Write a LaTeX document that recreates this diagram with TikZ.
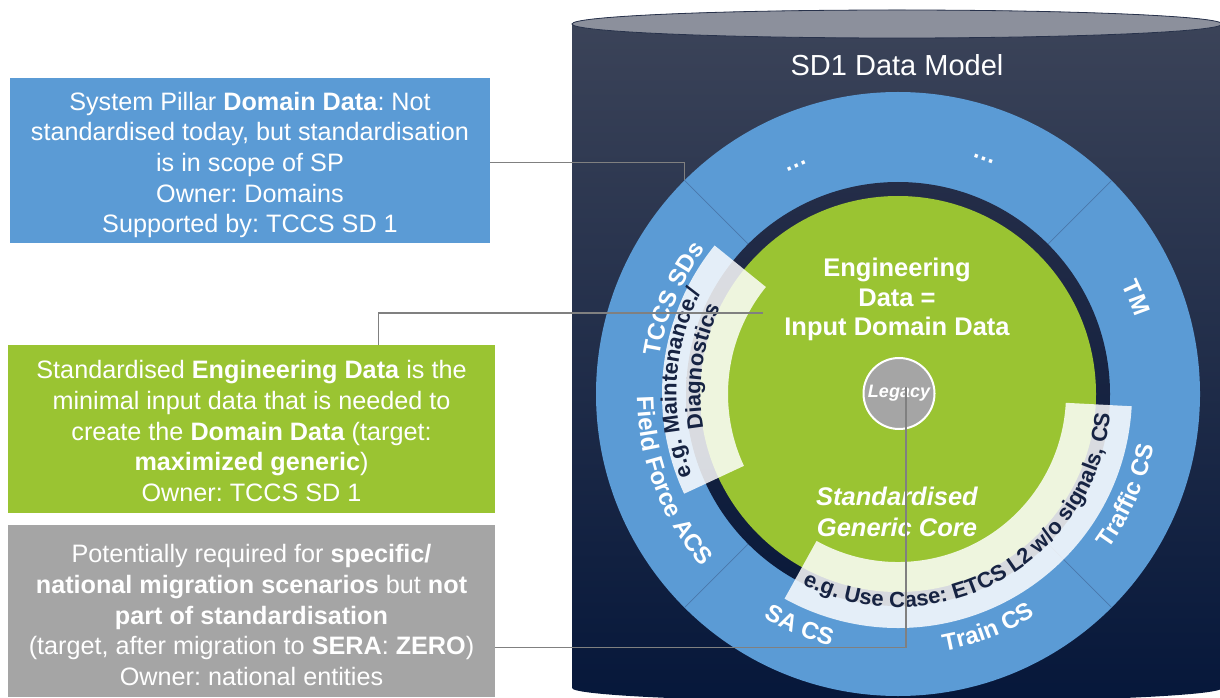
\documentclass[tikz,border=0pt]{standalone}
\usepackage{fontspec}
\setmainfont{Liberation Sans}
\usetikzlibrary{decorations.text}
\frenchspacing

\definecolor{ringblue}{RGB}{91,155,213}
\definecolor{coregreen}{RGB}{154,196,50}
\definecolor{boxgray}{RGB}{165,165,165}
\definecolor{cyltop}{RGB}{60,68,89}
\definecolor{cylbot}{RGB}{6,23,58}
\definecolor{gaptop}{RGB}{36,45,72}
\definecolor{gapbot}{RGB}{9,25,58}
\definecolor{lidgray}{RGB}{140,144,156}
\definecolor{lidedge}{RGB}{40,50,75}
\definecolor{navytext}{RGB}{22,35,66}
\definecolor{linegray}{RGB}{128,128,128}
\definecolor{divline}{RGB}{74,120,172}

\tikzset{
  infobox/.style={anchor=north west, inner sep=0pt},
  infotext/.style={inner sep=0pt, align=center, text=white,
    font=\fontsize{25.2}{30.6}\selectfont},
  divider/.style={draw=divline, line width=0.7pt},
  overlay band/.style={fill=white, fill opacity=0.84},
  connector/.style={draw=linegray, line width=1.3pt},
  ringtext/.style={decorate, decoration={text along path, text align=center,
    text color=white, text={|\fontsize{24}{24}\selectfont\bfseries|#1}}},
  bandtext/.style={decorate, decoration={text along path, text align=center,
    text color=navytext, text={|\fontsize{22}{22}\selectfont\bfseries|#1}}},
}

\begin{document}
\begin{tikzpicture}[x=1pt, y=1pt]
\useasboundingbox (0,0) rectangle (1220,697);
\fill[white] (0,0) rectangle (1220,697);

% database cylinder
\shade[top color=cyltop, bottom color=cylbot]
  (572,673) -- (572,9) arc[start angle=180, end angle=360, x radius=325, y radius=14]
  -- (1222,673) arc[start angle=0, end angle=180, x radius=325, y radius=14] -- cycle;
\draw[fill=lidgray, draw=lidedge, line width=0.8pt] (897,673) ellipse[x radius=325, y radius=14];
\node[text=white, font=\fontsize{29}{29}\selectfont] (title) at (897,632) {SD1 Data Model};

% concentric rings
\begin{scope}[shift={(898,303)}]
  \fill[ringblue] (0,0) circle[radius=302];
  \foreach \a in {45,135,225,315} \draw[divider] (\a:210) -- (\a:302);
  \shade[top color=gaptop, bottom color=gapbot] (0,0) circle[radius=212];
  \fill[coregreen] (0,0) circle[radius=198];

  % translucent example bands
  \fill[overlay band] (141:170) arc[start angle=141, end angle=205, radius=170]
    -- (205:236) arc[start angle=205, end angle=141, radius=236] -- cycle;
  \fill[overlay band] (-119:168) arc[start angle=-119, end angle=-3, radius=168]
    -- (-3:234) arc[start angle=-3, end angle=-119, radius=234] -- cycle;

  % segment labels in the outer ring
  \path[ringtext={TCCS SDs}] (217:241) arc[start angle=217, end angle=97, radius=241];
  \path[ringtext={TM}] (82:249) arc[start angle=82, end angle=-38, radius=249];
  \path[ringtext={Field Force ACS}] (141:261) arc[start angle=141, end angle=261, radius=261];
  \path[ringtext={SA CS}] (187:261) arc[start angle=187, end angle=307, radius=261];
  \path[ringtext={Train CS}] (231:261) arc[start angle=231, end angle=351, radius=261];
  \path[ringtext={Traffic CS}] (276:261) arc[start angle=276, end angle=396, radius=261];
  \node[text=white, rotate=24, font=\fontsize{24}{24}\selectfont\bfseries] (dotsA) at (114:250) {…};
  \node[text=white, rotate=-20, font=\fontsize{24}{24}\selectfont\bfseries] (dotsB) at (70:250) {…};

  % text on the translucent bands
  \path[bandtext={e.g. Maintenance./}] (237:221.5) arc[start angle=237, end angle=117, radius=221.5];
  \path[bandtext={Diagnostics}] (232:197.5) arc[start angle=232, end angle=112, radius=197.5];
  \path[bandtext={e.g. Use Case: ETCS L2 w/o signals, CS}] (-121:213) arc[start angle=-121, end angle=-1, radius=213];
\end{scope}

% core texts
\node[align=center, text=white, font=\fontsize{25.5}{29.5}\selectfont\bfseries] (eng) at (897,397.5)
  {Engineering\\Data =\\Input Domain Data};
\node[align=center, text=white, font=\fontsize{25.5}{31.5}\selectfont\bfseries\itshape] (core) at (897,185)
  {Standardised\\Generic Core};
\node[circle, fill=boxgray, draw=white, line width=2pt, minimum size=71pt, inner sep=0pt,
  text=white, font=\fontsize{18}{18}\selectfont\bfseries\itshape] (legacy) at (899,303.5) {Legacy};

% explanation boxes
\node[infobox, fill=ringblue, minimum width=480pt, minimum height=165pt] (bluebox) at (10,619) {};
\node[infobox, fill=coregreen, minimum width=487pt, minimum height=168pt] (greenbox) at (8,352) {};
\node[infobox, fill=boxgray, minimum width=487pt, minimum height=172pt] (graybox) at (8,172) {};

\node[infotext] (bluetext) at (250,532)
  {System Pillar \textbf{Domain Data}: Not\\standardised today, but standardisation\\is in scope of SP\\Owner: Domains\\Supported by: TCCS SD 1};
\node[infotext] (greentext) at (251.5,266)
  {Standardised \textbf{Engineering Data} is the\\minimal input data that is needed to\\create the \textbf{Domain Data} (target:\\\textbf{maximized generic})\\Owner: TCCS SD 1};
\node[infotext] (graytext) at (251.5,82)
  {Potentially required for \textbf{specific/}\\\textbf{national migration scenarios} but \textbf{not}\\\textbf{part of standardisation}\\(target, after migration to \textbf{SERA}: \textbf{ZERO})\\Owner: national entities};

% connector end points
\coordinate (bEnd) at (684.5,516.5);
\coordinate (gEnd) at (763,384);
\coordinate (lEnd) at (906,310);

\draw[connector] ([yshift=-2pt]bluebox.east) -| (bEnd);
\draw[connector] ([xshift=126.5pt]greenbox.north) |- (gEnd);
\draw[connector] ([yshift=-36pt]graybox.east) -| (lEnd);
\end{tikzpicture}
\end{document}
